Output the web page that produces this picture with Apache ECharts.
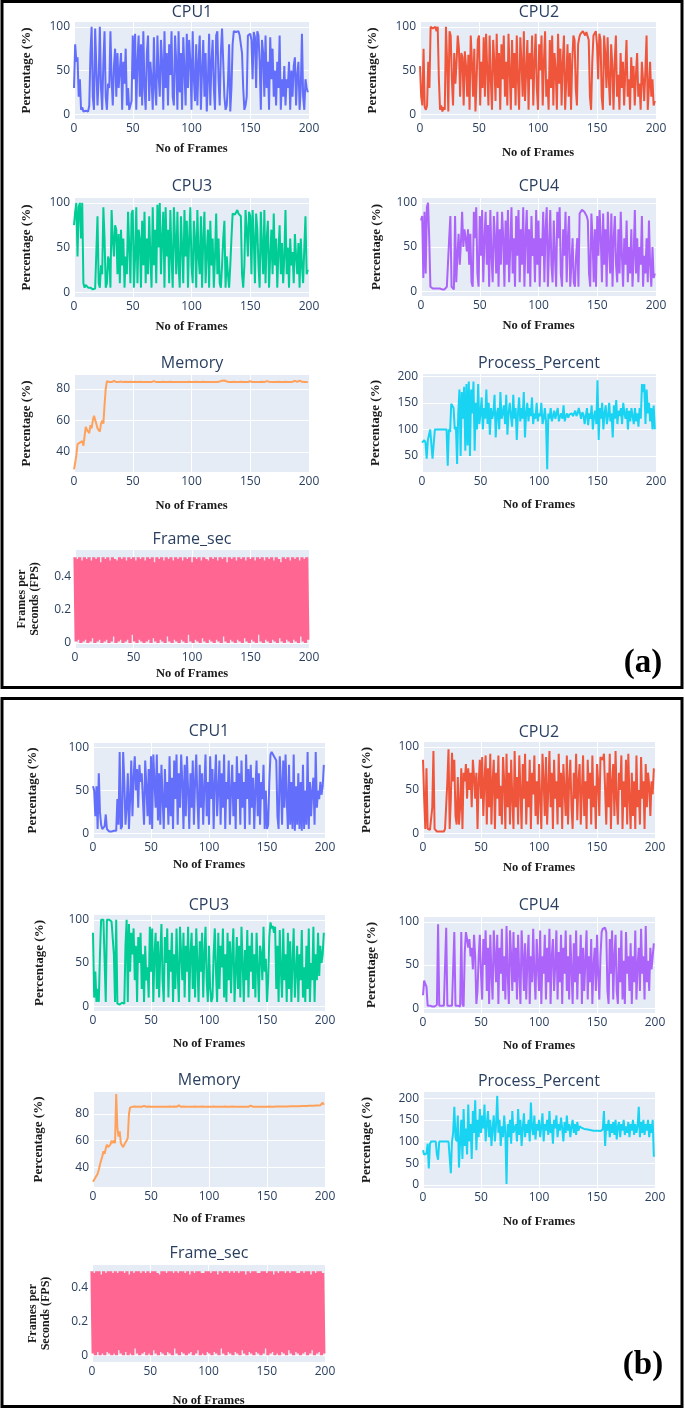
<!DOCTYPE html>
<html>
<head>
<meta charset="utf-8">
<script src="https://cdn.jsdelivr.net/npm/echarts@6/dist/echarts.min.js"></script>
<style>
html,body{margin:0;padding:0;background:#fff;}
#chart{width:685px;height:1410px;}
</style>
</head>
<body>
<div id="chart"></div>
<script>
// ---------------- DATA ----------------
const X_TICKS = [0, 50, 100, 150, 200];
const Y_TICKS_CPU = [0, 50, 100];
const Y_TICKS_MEM = [40, 60, 80];
const Y_TICKS_PROC_A = [50, 100, 150, 200];
const Y_TICKS_PROC_B = [0, 50, 100, 150, 200];
const Y_TICKS_FPS = [0, 0.2, 0.4];

// panel (a)
const CPU1_A = [30,80,60,65,20,40,5,8,3,5,4,6,3,10,70,100,20,5,98,100,
10,40,100,30,5,60,95,20,5,35,30,95,40,10,55,75,20,70,30,50,
70,5,60,35,75,10,30,5,10,15,90,40,92,5,60,90,20,80,10,95,
30,5,70,90,15,60,40,5,88,30,10,90,45,20,85,60,5,95,30,70,
10,80,45,95,20,10,90,60,5,95,25,70,5,88,50,10,92,30,85,60,
5,95,40,15,80,10,60,90,5,50,85,20,70,3,40,92,10,60,85,30,
5,90,95,40,10,70,98,60,20,5,10,35,80,3,30,80,95,96,94,92,
95,90,92,70,30,5,10,20,90,88,92,85,40,94,88,30,95,90,60,5,
85,70,20,90,30,60,5,88,40,75,20,50,10,60,30,90,5,40,20,55,
10,40,30,60,5,50,20,55,65,10,45,60,5,30,92,20,5,40,30,25];

const CPU2_A = [55,20,10,75,8,5,10,60,30,100,100,98,100,100,95,100,40,5,10,3,
8,5,100,60,3,95,90,40,10,70,35,60,90,75,20,70,65,10,72,55,
20,68,5,90,60,20,75,3,40,85,90,10,60,30,88,20,92,50,10,90,
40,5,85,60,15,92,30,70,5,80,40,90,20,60,10,92,50,5,85,30,
70,10,90,40,5,88,60,20,95,15,50,85,5,70,40,90,10,60,92,30,
5,80,50,90,10,60,95,20,40,5,85,30,90,10,70,50,5,92,35,75,
10,60,90,5,40,80,20,70,5,60,90,85,30,10,80,88,92,90,95,93,
90,94,96,85,20,5,60,90,88,95,80,40,92,85,20,5,90,70,30,88,
40,10,80,55,5,60,90,20,45,5,70,30,60,10,50,85,20,40,5,65,
30,55,10,45,70,20,35,5,60,40,15,50,90,5,30,60,20,40,10,15];

const CPU3_A = [75,90,100,40,95,100,60,100,10,5,8,6,5,4,5,6,3,5,4,6,
85,10,5,30,20,95,60,5,10,40,35,5,92,60,40,75,70,20,65,10,
70,30,60,5,40,20,90,50,10,88,92,5,40,95,10,70,60,5,80,30,
90,10,60,20,85,40,5,95,30,70,10,98,50,100,20,60,90,5,95,40,
70,10,92,40,5,95,60,20,90,30,5,85,50,10,92,40,80,5,60,95,
30,10,80,60,5,92,40,20,85,5,60,90,10,45,70,5,80,30,60,5,
40,88,20,60,10,5,30,60,80,5,40,20,5,30,60,88,90,87,89,92,
88,90,85,20,5,30,92,70,40,90,85,20,92,60,10,88,70,30,5,90,
50,20,92,10,60,80,5,40,70,20,88,30,60,5,45,75,20,55,10,40,
92,20,50,5,60,30,45,10,65,40,20,55,5,60,30,10,50,85,20,25];

const CPU4_A = [80,85,15,90,20,95,100,60,5,4,3,4,3,2,3,2,3,2,2,3,
2,3,5,3,60,85,5,3,2,85,10,40,65,30,55,90,50,70,60,45,
70,30,65,10,5,90,60,95,20,5,85,40,92,10,60,90,30,75,5,92,
40,10,85,60,20,90,5,70,30,90,60,5,80,30,92,10,50,95,20,60,
5,85,40,92,10,70,30,95,5,60,92,20,70,5,85,40,60,10,92,30,
80,5,60,40,90,10,70,95,5,50,92,30,10,80,40,5,90,60,95,20,
5,70,40,90,10,60,85,5,30,60,10,5,40,60,5,88,90,92,91,90,
88,85,80,20,5,88,60,10,70,5,85,40,92,60,10,88,30,70,5,90,
50,20,88,5,60,85,30,10,70,20,90,40,5,60,30,80,10,50,20,70,
5,40,92,20,60,10,50,30,85,5,40,20,60,10,80,30,5,50,15,20];

const MEM_A = [29,33,38,45,46,46,45,47,44,50,56,54,55,52,57,55,60,63,64,58,
55,54,53,58,60,58,70,80,85,84,84.5,84.6,84.4,84.5,85.2,84.5,84.4,84.6,84.5,84.5,
84.7,84.5,84.4,84.5,84.6,85.0,84.5,84.4,84.6,84.5,84.5,84.4,84.6,84.5,84.5,84.3,84.6,84.5,84.5,84.4,
84.5,84.6,84.5,84.4,84.5,84.6,84.5,84.5,85.0,84.5,84.4,84.6,84.5,84.5,84.4,84.5,84.6,84.5,84.5,84.4,
84.5,84.5,84.6,85.1,84.5,84.4,84.5,84.6,84.5,84.5,84.4,84.5,84.5,84.6,84.5,84.4,84.5,84.5,84.6,84.5,
84.5,84.4,84.5,84.5,84.6,84.5,84.5,84.4,84.5,84.5,84.6,84.5,84.4,84.5,84.5,84.6,84.5,84.5,84.4,84.5,
84.5,84.6,84.5,84.7,84.8,85.0,85.3,85.6,85.4,85.1,84.8,84.6,84.5,84.5,84.4,84.5,84.6,84.5,84.5,84.4,
84.5,84.5,84.6,84.5,84.4,84.5,84.5,84.6,84.5,84.5,84.9,84.5,84.4,84.6,84.5,84.5,84.4,85.2,84.5,84.5,
84.6,84.5,84.4,84.5,85.0,84.5,84.6,84.5,84.4,84.5,84.5,85.1,84.5,84.4,84.6,84.5,84.5,84.9,84.5,84.4,
84.6,84.5,84.5,85.0,84.4,84.5,84.6,84.5,85.2,84.5,84.6,84.5,85.4,84.5,84.6,84.5,84.4,84.9,84.5,84.5];

const PROC_A = [75,72,80,75,45,80,82,100,100,45,45,100,100,100,100,100,100,100,100,100,
100,100,32,100,95,148,150,140,100,105,35,130,175,50,170,120,180,60,185,70,
190,50,175,130,190,60,150,100,185,110,130,160,100,140,120,175,110,150,90,140,
120,130,165,85,130,140,100,170,120,130,145,110,165,90,130,150,125,105,165,120,
140,80,130,160,115,140,120,170,85,130,150,115,140,125,160,110,130,120,150,115,
130,125,150,110,120,140,115,25,130,120,140,115,125,135,120,130,140,115,125,130,
120,145,115,125,130,122,128,125,130,125,128,135,125,130,140,130,120,132,128,110,
125,140,108,130,120,145,100,125,135,110,192,80,140,120,150,100,130,145,110,125,
150,115,130,85,145,120,155,110,135,125,140,110,150,130,120,140,100,135,115,140,
125,110,140,115,130,105,140,120,185,170,185,110,175,130,150,115,140,100,145,100];

const FPS_A = [0.52,0.01,0.51,0.02,0.52,0.00,0.50,0.01,0.52,0.02,0.51,0.00,0.52,0.01,0.50,0.03,0.52,0.00,0.51,0.01,
0.52,0.02,0.49,0.00,0.52,0.01,0.51,0.02,0.52,0.00,0.50,0.01,0.52,0.04,0.51,0.00,0.50,0.01,0.52,0.02,
0.51,0.00,0.52,0.01,0.50,0.02,0.52,0.00,0.51,0.05,0.52,0.01,0.50,0.00,0.52,0.02,0.51,0.01,0.52,0.00,
0.50,0.01,0.52,0.02,0.51,0.00,0.52,0.03,0.49,0.01,0.52,0.00,0.51,0.02,0.52,0.01,0.50,0.00,0.52,0.04,
0.51,0.01,0.52,0.00,0.50,0.02,0.52,0.01,0.51,0.00,0.52,0.02,0.50,0.01,0.52,0.00,0.51,0.05,0.52,0.01,
0.49,0.00,0.52,0.02,0.51,0.01,0.52,0.00,0.50,0.03,0.52,0.01,0.51,0.00,0.50,0.02,0.52,0.01,0.51,0.00,
0.52,0.02,0.50,0.01,0.52,0.00,0.51,0.04,0.52,0.01,0.49,0.00,0.52,0.02,0.51,0.01,0.52,0.00,0.50,0.02,
0.52,0.01,0.51,0.00,0.52,0.03,0.50,0.01,0.52,0.00,0.51,0.02,0.52,0.01,0.50,0.00,0.52,0.05,0.51,0.01,
0.52,0.00,0.50,0.02,0.52,0.01,0.51,0.00,0.52,0.02,0.50,0.01,0.52,0.00,0.51,0.03,0.49,0.01,0.52,0.00,
0.51,0.02,0.52,0.01,0.50,0.00,0.52,0.02,0.51,0.01,0.52,0.00,0.50,0.04,0.52,0.01,0.51,0.00,0.52,0.02];

// panel (b)
const CPU1_B = [55,50,20,55,5,70,25,10,5,3,8,22,5,3,2,3,2,2,3,2,
3,40,10,95,5,8,95,60,10,30,70,5,40,85,20,65,90,50,75,30,
80,60,70,40,10,85,55,20,75,10,90,5,92,60,30,92,15,70,10,80,
40,5,75,30,60,10,90,20,65,5,85,40,92,10,70,30,92,60,5,80,
20,90,50,5,70,30,85,10,60,92,40,5,80,30,70,10,55,92,20,60,
10,90,40,75,5,60,92,20,50,85,10,70,30,92,5,60,40,85,10,50,
80,20,60,5,90,40,70,10,85,30,60,5,92,40,75,10,80,30,65,5,
50,85,20,70,10,60,40,80,5,50,5,10,60,92,95,93,90,92,85,20,
5,90,60,10,85,30,92,40,5,80,10,60,5,92,3,55,10,70,5,60,
3,80,5,50,10,95,5,60,20,50,65,10,95,30,50,40,60,45,55,80];

const CPU2_B = [85,40,5,75,5,3,4,3,30,95,5,3,2,3,2,4,2,3,2,5,
3,60,97,5,40,93,60,85,20,10,65,10,30,75,5,70,60,80,40,75,
50,70,30,85,65,40,70,5,60,85,40,88,20,60,90,10,75,30,92,10,
60,85,5,70,40,90,20,55,10,88,60,5,92,30,70,10,85,40,5,95,
30,65,10,90,50,5,80,40,92,10,60,30,85,5,70,45,90,20,60,10,
80,40,5,92,60,20,88,10,50,95,30,70,5,85,40,60,10,92,30,70,
5,80,50,20,90,10,60,85,30,5,70,40,92,15,60,80,10,50,90,20,
60,5,85,40,70,10,90,30,55,5,80,60,20,88,90,85,92,50,10,70,
30,92,5,60,80,20,95,40,10,70,50,90,5,60,30,85,10,92,40,5,
70,20,60,5,90,30,50,10,88,40,60,5,80,30,70,55,20,60,45,75];

const CPU3_B = [85,10,40,5,20,5,60,100,100,100,100,5,100,100,100,100,98,100,60,5,
100,3,3,2,3,4,2,3,70,100,5,95,40,85,60,90,30,70,5,80,
50,85,20,60,5,70,30,45,10,92,40,90,5,60,85,20,75,10,60,95,
30,5,80,50,90,10,65,40,85,5,60,20,90,40,5,92,60,30,85,10,
70,40,92,5,60,85,20,70,10,90,50,5,75,40,85,10,60,92,30,5,
70,20,5,10,60,90,40,5,85,20,70,45,90,10,60,5,85,30,75,15,
60,90,5,40,80,20,70,10,92,50,5,65,30,88,10,70,40,85,20,60,
10,85,45,5,70,60,30,92,40,55,5,30,80,97,90,93,85,92,20,70,
5,88,40,10,90,30,60,5,85,20,75,5,50,90,10,40,70,5,60,30,
88,10,45,5,70,20,90,5,50,30,92,5,60,30,85,35,70,50,60,85];

const CPU4_B = [15,32,28,25,3,2,3,4,2,3,2,3,4,97,3,2,3,2,3,4,
93,3,2,3,2,3,4,88,3,2,3,4,2,88,5,2,65,88,80,70,
80,60,70,45,85,60,5,20,60,85,40,10,80,50,90,20,70,5,85,40,
10,90,60,30,85,5,70,40,92,20,60,10,95,40,5,90,60,20,88,30,
70,10,85,40,5,90,60,20,75,10,55,85,5,60,30,92,40,10,80,50,
20,90,5,60,40,85,10,70,30,92,5,60,80,20,50,90,10,65,30,85,
5,70,40,90,20,60,10,85,45,5,75,30,90,10,60,40,85,5,70,20,
55,90,10,60,30,80,5,50,70,20,85,40,10,60,88,92,91,93,88,20,
5,80,40,90,10,60,85,20,5,70,30,90,10,55,5,88,40,60,20,75,
5,60,30,90,10,50,70,20,92,40,60,10,95,30,55,20,70,45,60,75];

const MEM_B = [29,30,32,33,35,38,42,45,48,52,50,54,57,55,55,57,60,58,60,58,
95,70,63,67,58,57,55,57,58,60,62,80,85,85.5,85.4,85.5,85.6,85.5,85.4,85.5,
85.5,85.6,85.4,85.5,86.2,85.5,85.4,85.5,85.6,85.5,85.4,85.5,85.5,85.6,85.4,85.5,85.5,85.7,85.5,85.4,
85.5,85.6,85.5,85.4,85.5,85.5,85.6,85.4,85.5,85.5,85.6,85.5,85.4,85.5,86.5,85.5,85.4,85.5,85.6,85.5,
85.5,85.4,85.5,85.6,85.5,85.5,85.4,85.5,85.6,85.5,85.5,85.4,85.5,85.5,85.6,85.5,85.4,85.5,85.5,85.6,
85.5,85.4,85.5,85.5,85.6,85.5,85.4,85.5,85.5,85.6,85.5,85.4,85.5,85.5,85.6,85.5,85.5,85.4,85.5,85.5,
85.6,85.5,85.4,85.5,85.5,85.6,85.5,85.5,85.4,85.5,85.5,85.6,85.5,85.4,85.5,85.5,86.3,85.5,85.4,85.5,
85.5,85.6,85.5,85.5,85.4,85.5,85.5,85.6,85.5,85.5,85.4,85.5,85.6,85.5,85.5,85.6,85.5,85.6,85.7,85.6,
85.6,85.7,85.6,85.6,85.7,85.6,85.7,85.8,85.7,85.7,85.8,85.7,85.8,85.8,85.9,85.8,85.9,86.0,85.9,86.0,
86.0,86.1,86.0,86.2,86.1,86.2,86.3,86.2,86.3,86.4,86.3,86.5,86.4,86.6,86.5,86.8,86.6,87.5,88.5,87.0];

const PROC_B = [80,70,68,72,95,38,95,100,100,100,100,100,70,58,100,100,100,100,100,100,
100,100,100,100,27,100,120,180,110,100,160,40,100,150,60,175,90,130,70,185,
100,140,60,170,120,195,80,150,110,175,120,160,130,185,100,140,170,110,150,90,
130,160,100,140,205,120,150,90,135,110,160,120,2,140,110,150,95,170,120,130,
140,100,175,115,150,90,130,165,110,140,120,150,100,190,130,115,160,105,140,125,
150,110,135,165,100,140,125,150,115,170,120,140,95,150,130,160,110,140,125,155,
130,100,145,120,160,125,140,110,135,150,120,140,115,145,125,135,132,131,130,129,
130,128,129,127,128,126,127,125,126,125,124,125,123,124,122,128,170,90,140,125,
150,110,140,120,145,115,150,105,135,145,110,140,125,150,115,135,120,145,110,140,
125,150,115,140,120,135,180,110,145,120,150,115,140,125,150,110,140,120,150,65];

const FPS_B = [0.50,0.01,0.49,0.00,0.50,0.02,0.50,0.00,0.48,0.01,0.50,0.00,0.49,0.02,0.50,0.01,0.50,0.00,0.49,0.01,
0.50,0.00,0.49,0.03,0.50,0.01,0.50,0.00,0.49,0.02,0.50,0.00,0.48,0.01,0.50,0.00,0.49,0.04,0.50,0.01,
0.50,0.00,0.49,0.01,0.50,0.02,0.49,0.00,0.50,0.01,0.49,0.00,0.50,0.03,0.50,0.01,0.49,0.00,0.48,0.02,
0.50,0.01,0.50,0.00,0.49,0.02,0.50,0.01,0.50,0.00,0.49,0.04,0.50,0.01,0.49,0.00,0.50,0.02,0.50,0.01,
0.49,0.00,0.50,0.01,0.48,0.02,0.50,0.00,0.49,0.01,0.50,0.03,0.50,0.00,0.49,0.01,0.49,0.00,0.50,0.02,
0.50,0.01,0.49,0.00,0.50,0.02,0.50,0.01,0.48,0.00,0.50,0.04,0.49,0.01,0.50,0.00,0.50,0.02,0.49,0.01,
0.50,0.00,0.49,0.02,0.50,0.01,0.49,0.00,0.50,0.03,0.50,0.01,0.48,0.00,0.50,0.02,0.49,0.01,0.50,0.00,
0.50,0.02,0.49,0.01,0.49,0.00,0.50,0.01,0.50,0.04,0.49,0.00,0.50,0.01,0.50,0.02,0.48,0.00,0.50,0.01,
0.49,0.00,0.50,0.02,0.50,0.01,0.49,0.00,0.50,0.03,0.49,0.01,0.50,0.00,0.50,0.02,0.49,0.01,0.49,0.00,
0.50,0.01,0.49,0.02,0.50,0.00,0.50,0.01,0.48,0.03,0.50,0.00,0.49,0.01,0.50,0.02,0.50,0.00,0.49,0.01];

// ---------------- LAYOUT ----------------
const C_BLUE = '#636efa', C_RED = '#EF553B', C_GREEN = '#00cc96', C_PURPLE = '#ab63fa',
      C_ORANGE = '#FFA15A', C_CYAN = '#19d3f3', C_PINK = '#FF6692';
const PCT = 'Percentage (%)';
const FPSNAME = 'Frames per\nSeconds (FPS)';

const PLOTS = [
  // panel a
  {vals: CPU1_A, color: C_BLUE, title: 'CPU1', left: 74, top: 22, width: 235, height: 97, ymin: -5.5, ymax: 105.5, yt: Y_TICKS_CPU, yname: PCT, ygap: 41, xgap: 23, tx: 192, ty: 12, lw: 2},
  {vals: CPU2_A, color: C_RED, title: 'CPU2', left: 420, top: 22, width: 236, height: 97, ymin: -5.5, ymax: 105.5, yt: Y_TICKS_CPU, yname: PCT, ygap: 41, xgap: 27, tx: 539, ty: 12, lw: 2},
  {vals: CPU3_A, color: C_GREEN, title: 'CPU3', left: 74, top: 198, width: 235, height: 99, ymin: -5.5, ymax: 105.5, yt: Y_TICKS_CPU, yname: PCT, ygap: 41, xgap: 23, tx: 192, ty: 186, lw: 2},
  {vals: CPU4_A, color: C_PURPLE, title: 'CPU4', left: 421, top: 198, width: 235, height: 98, ymin: -5.5, ymax: 105.5, yt: Y_TICKS_CPU, yname: PCT, ygap: 38, xgap: 23, tx: 539, ty: 186, lw: 2},
  {vals: MEM_A, color: C_ORANGE, title: 'Memory', left: 74, top: 375, width: 235, height: 97, ymin: 27.3, ymax: 88.9, yt: Y_TICKS_MEM, yname: PCT, ygap: 41, xgap: 27, tx: 192, ty: 363, lw: 2},
  {vals: PROC_A, color: C_CYAN, title: 'Process_Percent', left: 422, top: 374, width: 234, height: 98, ymin: 20, ymax: 204, yt: Y_TICKS_PROC_A, yname: PCT, ygap: 40, xgap: 26, tx: 539, ty: 363, lw: 2},
  {vals: FPS_A, color: C_PINK, title: 'Frame_sec', left: 75, top: 550, width: 234, height: 98, ymin: -0.03, ymax: 0.564, yt: Y_TICKS_FPS, yname: FPSNAME, ygap: 34, xgap: 19, tx: 192, ty: 539, lw: 3.2},
  // panel b
  {vals: CPU1_B, color: C_BLUE, title: 'CPU1', left: 93, top: 743, width: 232, height: 95, ymin: -5.5, ymax: 105.5, yt: Y_TICKS_CPU, yname: PCT, ygap: 54, xgap: 20, tx: 209, ty: 731, lw: 2},
  {vals: CPU2_B, color: C_RED, title: 'CPU2', left: 423, top: 742, width: 232, height: 96, ymin: -5.5, ymax: 105.5, yt: Y_TICKS_CPU, yname: PCT, ygap: 50, xgap: 23, tx: 539, ty: 732, lw: 2},
  {vals: CPU3_B, color: C_GREEN, title: 'CPU3', left: 93, top: 915, width: 232, height: 96, ymin: -5.5, ymax: 105.5, yt: Y_TICKS_CPU, yname: PCT, ygap: 47, xgap: 26, tx: 209, ty: 905, lw: 2},
  {vals: CPU4_B, color: C_PURPLE, title: 'CPU4', left: 423, top: 917, width: 232, height: 96, ymin: -5.5, ymax: 105.5, yt: Y_TICKS_CPU, yname: PCT, ygap: 45, xgap: 26, tx: 539, ty: 905, lw: 2},
  {vals: MEM_B, color: C_ORANGE, title: 'Memory', left: 93, top: 1092, width: 232, height: 95, ymin: 25, ymax: 96.6, yt: Y_TICKS_MEM, yname: PCT, ygap: 48, xgap: 25, tx: 209, ty: 1080, lw: 2},
  {vals: PROC_B, color: C_CYAN, title: 'Process_Percent', left: 423, top: 1092, width: 232, height: 96, ymin: -7, ymax: 214, yt: Y_TICKS_PROC_B, yname: PCT, ygap: 50, xgap: 27, tx: 539, ty: 1081, lw: 2},
  {vals: FPS_B, color: C_PINK, title: 'Frame_sec', left: 92, top: 1265, width: 233, height: 97, ymin: -0.04, ymax: 0.537, yt: Y_TICKS_FPS, yname: FPSNAME, ygap: 40, xgap: 32, tx: 209, ty: 1253, lw: 3.2}
];

const TICK_COLOR = '#2a3f5f';
const grids = [], xAxes = [], yAxes = [], series = [], graphics = [];

PLOTS.forEach((p, i) => {
  grids.push({left: p.left, top: p.top, width: p.width, height: p.height, show: true,
    backgroundColor: '#E5ECF6', borderWidth: 0, containLabel: false});
  xAxes.push({type: 'value', gridIndex: i, min: 0, max: 200, interval: 50,
    axisLine: {show: false}, axisTick: {show: false},
    splitLine: {show: true, lineStyle: {color: '#ffffff', width: 1}},
    axisLabel: {color: TICK_COLOR, fontSize: 12, margin: 4, fontFamily: 'Open Sans', showMinLabel: true, showMaxLabel: true},
    name: 'No of Frames', nameLocation: 'middle', nameGap: p.xgap,
    nameTextStyle: {fontFamily: 'Liberation Serif', fontWeight: 'bold', fontSize: 12.5, color: '#1a1a1a'}});
  yAxes.push({type: 'value', gridIndex: i, min: p.ymin, max: p.ymax,
    axisLine: {show: false},
    axisTick: {show: false, customValues: p.yt},
    splitLine: {show: true, lineStyle: {color: '#ffffff', width: 1}},
    axisLabel: {customValues: p.yt, color: TICK_COLOR, fontSize: 12, margin: 4, fontFamily: 'Open Sans'},
    name: p.yname, nameLocation: 'middle', nameGap: p.ygap, nameRotate: 90,
    nameTextStyle: {fontFamily: 'Liberation Serif', fontWeight: 'bold', fontSize: p.yname === FPSNAME ? 12 : 13, color: '#1a1a1a', lineHeight: 13}});
  series.push({type: 'line', xAxisIndex: i, yAxisIndex: i, showSymbol: false, symbol: 'none',
    sampling: null, animation: false,
    lineStyle: {color: p.color, width: p.lw}, itemStyle: {color: p.color},
    data: p.vals.map((v, k) => [k, v])});
  graphics.push({type: 'text', x: p.tx, y: p.ty,
    style: {text: p.title, font: '16px "Open Sans"', fill: TICK_COLOR, textAlign: 'center', textVerticalAlign: 'middle'}});
});

graphics.push({type: 'rect', shape: {x: 2, y: 1.5, width: 680, height: 686}, style: {fill: 'none', stroke: '#000', lineWidth: 3}});
graphics.push({type: 'rect', shape: {x: 2, y: 698.5, width: 680, height: 708}, style: {fill: 'none', stroke: '#000', lineWidth: 3}});
graphics.push({type: 'text', x: 643, y: 663, style: {text: '(a)', font: 'bold 33px "Liberation Serif"', fill: '#000', textAlign: 'center', textVerticalAlign: 'middle'}});
graphics.push({type: 'text', x: 643, y: 1365, style: {text: '(b)', font: 'bold 33px "Liberation Serif"', fill: '#000', textAlign: 'center', textVerticalAlign: 'middle'}});

const chart = echarts.init(document.getElementById('chart'), null, {renderer: 'canvas'});
chart.setOption({
  animation: false,
  backgroundColor: '#ffffff',
  grid: grids, xAxis: xAxes, yAxis: yAxes, series: series,
  graphic: {elements: graphics}
});
</script>
</body>
</html>
